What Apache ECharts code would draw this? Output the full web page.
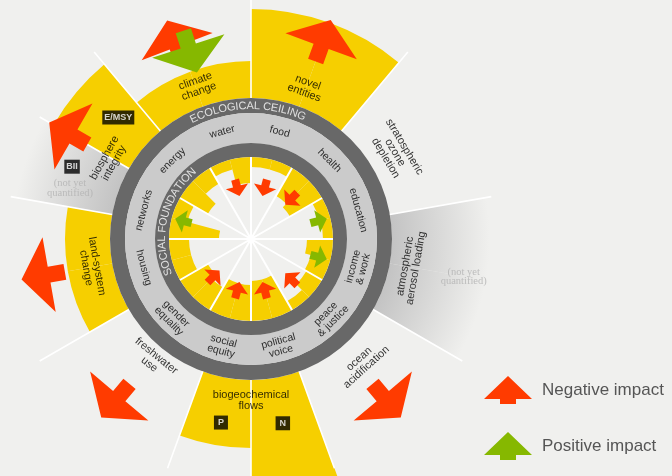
<!DOCTYPE html>
<html>
<head>
<meta charset="utf-8">
<script src="https://cdn.jsdelivr.net/npm/echarts@6/dist/echarts.min.js"></script>
<style>
  html, body { margin: 0; padding: 0; background: #f0f0ee; }
  #chart { width: 672px; height: 476px; }
</style>
</head>
<body>
<div id="chart"></div>
<script>
// ecological ceiling, clockwise from 12 o'clock, 40 deg each
const ecoNames = ['novel\nentities', 'stratospheric\nozone\ndepletion', 'atmospheric\naerosol loading', 'ocean\nacidification',
  'biogeochemical\nflows', 'freshwater\nuse', 'land-system\nchange', 'biosphere\nintegrity', 'climate\nchange']
// outer edge of the overshoot for each 20-deg half sector (ceiling = 141), 0 = within the boundary
const ecoOvershoot = [230, 230, 0, 0, 0, 0, 0, 0, 262, 209, 0, 0, 186, 186, 0, 228, 178, 178]
// halves that are not yet quantified
const ecoUnknown = [0, 0, 0, 0, 1, 1, 0, 0, 0, 0, 0, 0, 0, 0, 1, 0, 0, 0]
const ecoImpact = ['negative', null, null, 'negative', null, 'negative', 'negative', 'negative', 'both']

// social foundation, clockwise from 12 o'clock, 30 deg each
const socialNames = ['food', 'health', 'education', 'income\n& work', 'peace\n& justice', 'political\nvoice',
  'social\nequity', 'gender\nequality', 'housing', 'networks', 'energy', 'water']
// shortfall depth inside the foundation, two indicators per dimension (foundation = 82)
const socialShortfall = [10, 10, 32, 37, 11, 10, 26, 20, 18, 10, 40, 40, 36, 36, 26, 32, 20, 20, 50, 16, 32, 18, 10, 26]
const socialImpact = ['negative', 'negative', 'positive', 'positive', 'negative', 'negative', 'negative', 'negative',
  null, 'positive', null, 'negative']

const legendNames = ['Negative impact', 'Positive impact']

const CENTER = [251, 239]
const CEIL = 141
const FOUND = 82
const OUTER = 262
const YELLOW = '#f6cf00'
const RED = '#ff3b00'
const GREEN = '#86b800'
const DARK = '#686868'
const LIGHT = '#cbcbcb'
const BG = '#f0f0ee'

const BIG_ARROW = 'path://M0,28L38,0L76,28L46,28L46,44L30,44L30,28Z'
const SMALL_ARROW = 'path://M0,10L11.5,0L23,10L15.5,10L15.5,17L7.5,17L7.5,10Z'
const LEGEND_ARROW = 'path://M0,23L24,0L48,23L32,23L32,28L16,28L16,23Z'

const chart = echarts.init(document.getElementById('chart'))

const ecoCats = ecoOvershoot.map((v, i) => 'e' + i)
const socialCats = socialShortfall.map((v, i) => 's' + i)

// label turned along the circle, kept readable in the lower half
function tangent(a) {
  a = ((a % 360) + 360) % 360
  return a > 90 && a < 270 ? 180 - a : -a
}

function arcText(text, radius, centerAngle, fontSize) {
  const ctx = document.createElement('canvas').getContext('2d')
  ctx.font = fontSize + 'px "Liberation Sans"'
  const chars = text.split('')
  const widths = chars.map(c => ctx.measureText(c).width)
  const total = widths.reduce((s, w) => s + w, 0)
  const degPerPx = 180 / (Math.PI * radius)
  let acc = -total / 2
  return chars.map((c, i) => {
    const a = centerAngle + (acc + widths[i] / 2) * degPerPx
    acc += widths[i]
    return { name: c, value: [radius, a], label: { rotate: -a } }
  })
}

// arrows
const bigNeg = []
const bigPos = []
const smallNeg = []
const smallPos = []
ecoImpact.forEach((imp, i) => {
  const mid = i * 40 + 20
  if (imp === 'negative') {
    bigNeg.push({ value: [211, mid], symbolRotate: -mid })
  } else if (imp === 'both') {
    bigNeg.push({ value: [212, mid - 1], symbolRotate: -(mid - 1) })
    bigPos.push({ value: [197, mid + 2], symbolRotate: -(mid + 2 + 180) })
  }
})
socialImpact.forEach((imp, i) => {
  const mid = i * 30 + 15
  if (imp === 'negative') {
    const r = (i === 1 || i === 4) ? 57 : 53
    smallNeg.push({ value: [r, mid], symbolRotate: -(mid + 180) })
  } else if (imp === 'positive') {
    smallPos.push({ value: [70, mid], symbolRotate: -mid })
  }
})

// texts
const ecoLabelPos = [[161, 20], [168, 59], [162, 100], [167, 138], [161, 180], [156, 219], [162, 260], [162, 299], [162, 340.6]]
const ecoLabels = ecoNames.map((n, i) => ({
  name: n, value: ecoLabelPos[i], label: { rotate: tangent(ecoLabelPos[i][1]) }
}))
const socialLabels = socialNames.map((n, i) => ({
  name: n, value: [111, i * 30 + 15], label: { rotate: tangent(i * 30 + 15) }
}))
const boxes = [
  { name: 'E/MSY', value: [180, 312.5], label: { padding: [2, 2, 2, 2] } },
  { name: 'BII', value: [193, 292], label: { padding: [2, 2, 2, 2] } },
  { name: 'P', value: [186, 189.3], label: { padding: [2, 4, 2, 4] } },
  { name: 'N', value: [187, 170.2], label: { padding: [2, 4, 2, 4] } }
]
const notYet = [
  { name: '(not yet\nquantified)', value: [188, 285.7] },
  { name: '(not yet\nquantified)', value: [216, 100] }
]

const hiddenAxis = {
  axisLine: { show: false }, axisTick: { show: false }, axisLabel: { show: false }, splitLine: { show: false }
}
const ecoLineAt = i => i % 2 === 0 || i === 9 || i === 15

const greyFade = {
  type: 'radial', x: CENTER[0], y: CENTER[1], r: 246, global: true,
  colorStops: [{ offset: 0.57, color: '#c3c3c3' }, { offset: 0.97, color: BG }]
}

function ring(r0, r1, color) {
  return {
    type: 'pie', center: CENTER, radius: [r0, r1], silent: true, z: 3, startAngle: 90,
    label: { show: false }, labelLine: { show: false }, emphasis: { disabled: true },
    data: [{ value: 1, itemStyle: { color: color } }]
  }
}

function textSeries(data, label, z) {
  return {
    type: 'scatter', coordinateSystem: 'polar', polarIndex: 4, silent: true, z: z || 9,
    symbolSize: 1, itemStyle: { color: 'rgba(0,0,0,0)' },
    label: Object.assign({ show: true, position: 'inside', align: 'center', verticalAlign: 'middle', formatter: '{b}' }, label),
    data: data
  }
}

function arrowSeries(name, symbol, size, color, data) {
  return {
    name: name, type: 'scatter', coordinateSystem: 'polar', polarIndex: 4, silent: true, z: 8,
    symbol: symbol, symbolSize: size, symbolKeepAspect: false,
    itemStyle: { color: color, opacity: 1 }, emphasis: { disabled: true },
    data: data
  }
}

const option = {
  animation: false,
  backgroundColor: BG,
  textStyle: { fontFamily: 'Liberation Sans' },
  legend: {
    orient: 'vertical', left: 479, top: 371, itemWidth: 48, itemHeight: 28, itemGap: 28,
    selectedMode: false,
    textStyle: { fontSize: 17, color: '#555', padding: [0, 0, 0, 5] },
    data: [{ name: legendNames[0], icon: LEGEND_ARROW }, { name: legendNames[1], icon: LEGEND_ARROW }]
  },
  polar: [
    { center: CENTER, radius: [0, OUTER] },
    { center: CENTER, radius: [CEIL, 244] },
    { center: CENTER, radius: [0, FOUND] },
    { center: CENTER, radius: [0, FOUND] },
    { center: CENTER, radius: [0, OUTER] }
  ],
  angleAxis: [
    Object.assign({ polarIndex: 0, type: 'category', data: ecoCats, startAngle: 90 }, hiddenAxis),
    {
      polarIndex: 1, type: 'category', data: ecoCats, startAngle: 90, z: 5,
      axisLine: { show: false }, axisLabel: { show: false },
      axisTick: { show: false, interval: ecoLineAt },
      splitLine: { show: true, interval: ecoLineAt, lineStyle: { color: '#ffffff', width: 1.6 } }
    },
    Object.assign({ polarIndex: 2, type: 'category', data: socialCats, startAngle: 90 }, hiddenAxis),
    {
      polarIndex: 3, type: 'category', data: socialNames, startAngle: 90, z: 6,
      axisLine: { show: false }, axisLabel: { show: false }, axisTick: { show: false },
      splitLine: { show: true, lineStyle: { color: '#ffffff', width: 2 } }
    },
    Object.assign({ polarIndex: 4, type: 'value', min: 0, max: 360, startAngle: 90 }, hiddenAxis)
  ],
  radiusAxis: [
    Object.assign({ polarIndex: 0, type: 'value', min: 0, max: OUTER }, hiddenAxis),
    Object.assign({ polarIndex: 1, type: 'value' }, hiddenAxis),
    Object.assign({ polarIndex: 2, type: 'value', min: 0, max: FOUND }, hiddenAxis),
    Object.assign({ polarIndex: 3, type: 'value' }, hiddenAxis),
    Object.assign({ polarIndex: 4, type: 'value', min: 0, max: OUTER }, hiddenAxis)
  ],
  series: [
    // ecological overshoot wedges
    {
      type: 'bar', coordinateSystem: 'polar', polarIndex: 0, stack: 'eco', silent: true, barCategoryGap: '0%',
      itemStyle: { color: 'rgba(0,0,0,0)' }, data: ecoCats.map(() => CEIL)
    },
    {
      type: 'bar', coordinateSystem: 'polar', polarIndex: 0, stack: 'eco', silent: true, barCategoryGap: '0%',
      itemStyle: { color: YELLOW }, data: ecoOvershoot.map(v => (v > CEIL ? v - CEIL : 0))
    },
    {
      type: 'bar', coordinateSystem: 'polar', polarIndex: 0, stack: 'eco', silent: true, barCategoryGap: '0%',
      itemStyle: { color: greyFade }, data: ecoUnknown.map(u => (u ? 244 - CEIL : 0))
    },
    // rings
    ring(126, 141, DARK),
    ring(96, 126, LIGHT),
    ring(FOUND, 96, DARK),
    // social shortfall wedges
    {
      type: 'bar', coordinateSystem: 'polar', polarIndex: 2, stack: 'soc', silent: true, barCategoryGap: '0%', z: 4,
      itemStyle: { color: 'rgba(0,0,0,0)' }, data: socialShortfall.map(d => FOUND - d)
    },
    {
      type: 'bar', coordinateSystem: 'polar', polarIndex: 2, stack: 'soc', silent: true, barCategoryGap: '0%', z: 4,
      itemStyle: { color: YELLOW }, data: socialShortfall
    },
    // impact arrows
    arrowSeries(legendNames[0], BIG_ARROW, [76, 44], RED, bigNeg),
    arrowSeries(legendNames[1], BIG_ARROW, [76, 44], GREEN, bigPos),
    arrowSeries(legendNames[0], SMALL_ARROW, [23, 17], RED, smallNeg),
    arrowSeries(legendNames[1], SMALL_ARROW, [23, 17], GREEN, smallPos),
    // texts
    textSeries(arcText('ECOLOGICAL CEILING', 133, 358.6, 11), { color: '#ffffff', fontSize: 11 }),
    textSeries(arcText('SOCIAL FOUNDATION', 89, 283.5, 11), { color: '#ffffff', fontSize: 11 }),
    textSeries(ecoLabels, { color: '#000000', fontSize: 11, lineHeight: 11 }),
    textSeries(socialLabels, { color: '#000000', fontSize: 10.5, lineHeight: 10.5 }),
    textSeries(boxes, { color: '#ffffff', backgroundColor: '#000000', fontSize: 9, fontWeight: 'bold', lineHeight: 10 }),
    textSeries(notYet, { color: '#b2b2b2', fontSize: 10.5, lineHeight: 9.5, fontFamily: 'Liberation Serif' })
  ]
}

chart.setOption(option)
</script>
</body>
</html>
